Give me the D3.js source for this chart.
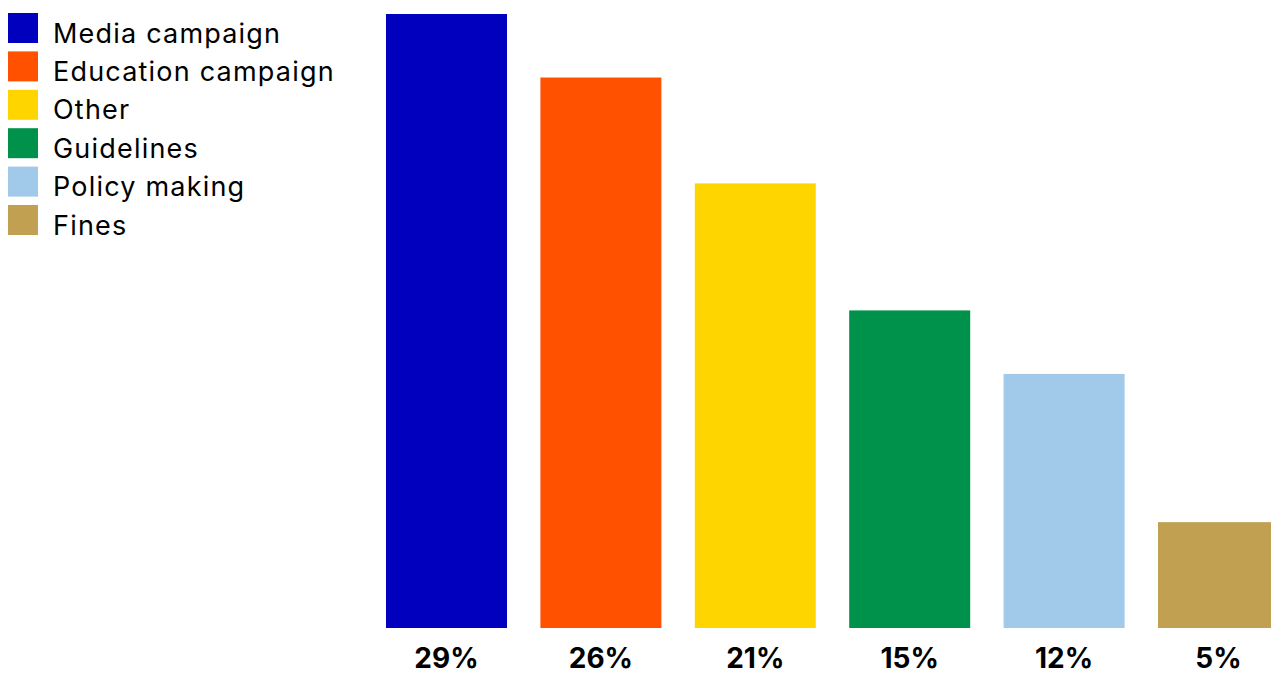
<!DOCTYPE html>
<html>
<head>
<meta charset="utf-8">
<script src="https://cdn.jsdelivr.net/npm/d3@7"></script>
<style>
  html, body { margin: 0; padding: 0; background: #fff; overflow: hidden; }
  svg { display: block; }
</style>
</head>
<body>
<script>
// Share of responses by measure type
const categories = ["Media campaign", "Education campaign", "Other", "Guidelines", "Policy making", "Fines"];
const values = [29, 26, 21, 15, 12, 5];
const colors = ["#0000BE", "#FF5100", "#FFD500", "#00924A", "#A1C9EA", "#C2A052"];

const width = 1271, height = 675;
const svg = d3.select("body").append("svg")
  .attr("width", width).attr("height", height);

const x = d3.scaleBand()
  .domain(categories)
  .range([386, 1279])
  .paddingInner(0.2163)
  .paddingOuter(0);

const y = d3.scaleLinear()
  .domain([0, 29])
  .range([628, 14]);

svg.append("g").selectAll("rect")
  .data(categories)
  .join("rect")
  .attr("x", d => x(d))
  .attr("width", x.bandwidth())
  .attr("y", (d, i) => y(values[i]))
  .attr("height", (d, i) => y(0) - y(values[i]))
  .attr("fill", (d, i) => colors[i]);

// Value labels under each bar
svg.append("g").selectAll("text")
  .data(categories)
  .join("text")
  .attr("x", d => x(d) + x.bandwidth() / 2)
  .attr("y", 668)
  .attr("text-anchor", "middle")
  .attr("font-family", "Inter, 'Liberation Sans', sans-serif")
  .attr("font-weight", 700)
  .attr("font-size", 28)
  .attr("fill", "#000")
  .text((d, i) => values[i] + "%");

// Legend
const legend = svg.append("g").selectAll("g")
  .data(categories)
  .join("g")
  .attr("transform", (d, i) => `translate(8, ${13 + i * 38.4})`);

legend.append("rect")
  .attr("width", 30).attr("height", 30)
  .attr("fill", (d, i) => colors[i]);

legend.append("text")
  .attr("x", 45)
  .attr("y", 29.5)
  .attr("font-family", "Inter, 'Liberation Sans', sans-serif")
  .attr("font-size", 27)
  .attr("letter-spacing", 1.2)
  .attr("fill", "#000")
  .text(d => d);
</script>
</body>
</html>
